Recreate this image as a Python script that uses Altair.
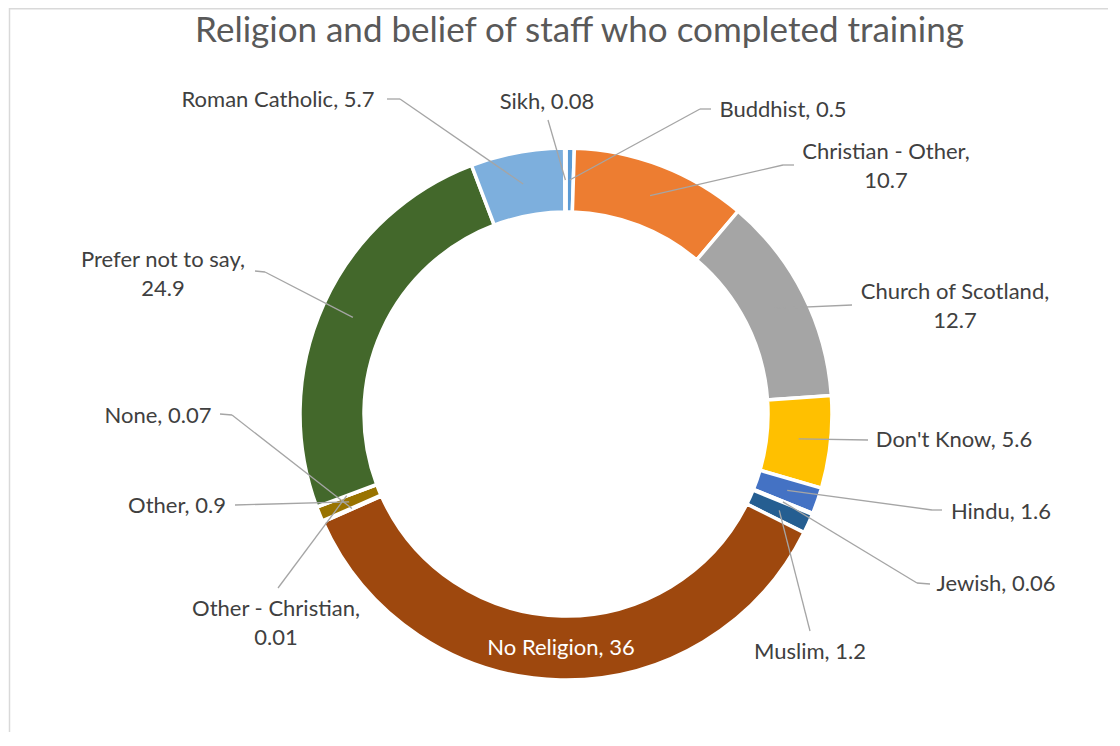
import altair as alt
import pandas as pd

# ---- data ----
religions = ["Buddhist", "Christian - Other", "Church of Scotland", "Don't Know", "Hindu",
             "Jewish", "Muslim", "No Religion", "None", "Other", "Other - Christian",
             "Prefer not to say", "Roman Catholic", "Sikh"]
values = [0.5, 10.7, 12.7, 5.6, 1.6, 0.06, 1.2, 36, 0.07, 0.9, 0.01, 24.9, 5.7, 0.08]
colors = ["#5B9BD5", "#ED7D31", "#A5A5A5", "#FFC000", "#4472C4", "#70AD47", "#255E91",
          "#9E480E", "#636363", "#997300", "#264478", "#43682B", "#7DAFDD", "#F1975A"]
two_line = {"Christian - Other", "Church of Scotland", "Other - Christian", "Prefer not to say"}
title_text = "Religion and belief of staff who completed training"

# ---- layout (page pixel positions of labels' first line / leader-line attach & elbow points) ----
label_pos = {
    "Buddhist": (783, 110), "Christian - Other": (886, 152), "Church of Scotland": (955, 292),
    "Don't Know": (954, 440), "Hindu": (1001, 512), "Jewish": (996, 584), "Muslim": (810, 652),
    "No Religion": (561, 648), "None": (158, 416), "Other": (177, 506),
    "Other - Christian": (276, 609), "Prefer not to say": (163, 260),
    "Roman Catholic": (278, 100), "Sikh": (547, 102),
}
leader = {  # (attach, elbow)
    "Buddhist": ((711, 109), (700, 109)), "Christian - Other": ((794, 165), (783, 165)),
    "Church of Scotland": ((852, 305), (852, 305)), "Don't Know": ((868, 440), (868, 440)),
    "Hindu": ((942, 510), (932, 510)), "Jewish": ((930, 584), (917, 583)),
    "Muslim": ((810, 631), (810, 631)), "None": ((220, 414), (232, 415)),
    "Other": ((235, 505), (235, 505)), "Other - Christian": ((278, 588), (278, 588)),
    "Prefer not to say": ((255, 271), (265, 272)), "Roman Catholic": ((387, 99), (400, 99)),
    "Sikh": ((548, 120), (548, 120)),
}

W, H = 1100, 724
OFF = 8
CX, CY = 566, 414          # page coords of donut centre
R_OUT, R_IN, R_LEAD = 266, 202, 234
FONT = "Lato"

rows = []
for i, (name, v) in enumerate(zip(religions, values)):
    sep = ",\n" if name in two_line else ", "
    lx, ly = label_pos[name]
    if name in leader:
        (ax, ay), (bx, by) = leader[name]
        has = 1
    else:
        ax = ay = bx = by = 0
        has = 0
    rows.append(dict(religion=name, value=v, order=i, label=f"{name}{sep}{v:g}",
                     lx=lx, ly=ly, ax=ax, ay=ay, bx=bx, by=by, has_line=has))
df = pd.DataFrame(rows)

xs = alt.Scale(domain=[OFF, OFF + W], nice=False, zero=False)
ys = alt.Scale(domain=[OFF, OFF + H], nice=False, zero=False, reverse=True)

base = alt.Chart(df)

arcs = base.mark_arc(x=CX - OFF, y=CY - OFF, outerRadius=R_OUT, innerRadius=R_IN,
                     stroke="white", strokeWidth=3.5).encode(
    theta=alt.Theta("value:Q", stack=True),
    order=alt.Order("order:Q"),
    color=alt.Color("religion:N", scale=alt.Scale(domain=religions, range=colors), legend=None),
)

# leader-line inner end: middle of the ring at each slice's mid-angle (computed from the data)
lead_base = base.transform_joinaggregate(total="sum(value)").transform_window(
    cum="sum(value)", sort=[alt.SortField("order")], frame=[None, 0]
).transform_calculate(
    mid="(datum.cum - datum.value/2) / datum.total * 2 * PI",
    rx=f"{CX} + {R_LEAD} * sin(datum.mid)",
    ry=f"{CY} - {R_LEAD} * cos(datum.mid)",
).transform_filter("datum.has_line == 1")

line_color = "#A5A5A5"
rule1 = lead_base.mark_rule(color=line_color, strokeWidth=1.3).encode(
    x=alt.X("rx:Q", scale=xs, axis=None), y=alt.Y("ry:Q", scale=ys, axis=None),
    x2="bx:Q", y2="by:Q")
rule2 = lead_base.mark_rule(color=line_color, strokeWidth=1.3).encode(
    x=alt.X("bx:Q", scale=xs, axis=None), y=alt.Y("by:Q", scale=ys, axis=None),
    x2="ax:Q", y2="ay:Q")

labels = base.mark_text(font=FONT, fontSize=22, lineBreak="\n", lineHeight=29,
                        align="center", baseline="middle").encode(
    x=alt.X("lx:Q", scale=xs, axis=None), y=alt.Y("ly:Q", scale=ys, axis=None),
    text="label:N",
    color=alt.condition(alt.datum.religion == "No Religion", alt.value("white"), alt.value("#404040")),
)

title = alt.Chart(pd.DataFrame({"t": [title_text]})).mark_text(
    font=FONT, fontSize=35, color="#595959", align="center", baseline="middle"
).encode(x=alt.value(579.5 - OFF), y=alt.value(31 - OFF), text="t:N")

border_left = alt.Chart(pd.DataFrame({"a": [0]})).mark_rule(color="#D9D9D9", strokeWidth=1.5).encode(
    x=alt.value(1.5), y=alt.value(0), y2=alt.value(H))
border_top = alt.Chart(pd.DataFrame({"a": [0]})).mark_rule(color="#D9D9D9", strokeWidth=1.5).encode(
    x=alt.value(1.5), x2=alt.value(W), y=alt.value(0.75))

chart = alt.layer(border_left, border_top, arcs, rule1, rule2, labels, title).properties(
    width=W, height=H, autosize=alt.AutoSizeParams(type="none"), padding=0
).configure_view(stroke=None)

chart.save("out.html", embed_options={"renderer": "svg", "actions": False})
